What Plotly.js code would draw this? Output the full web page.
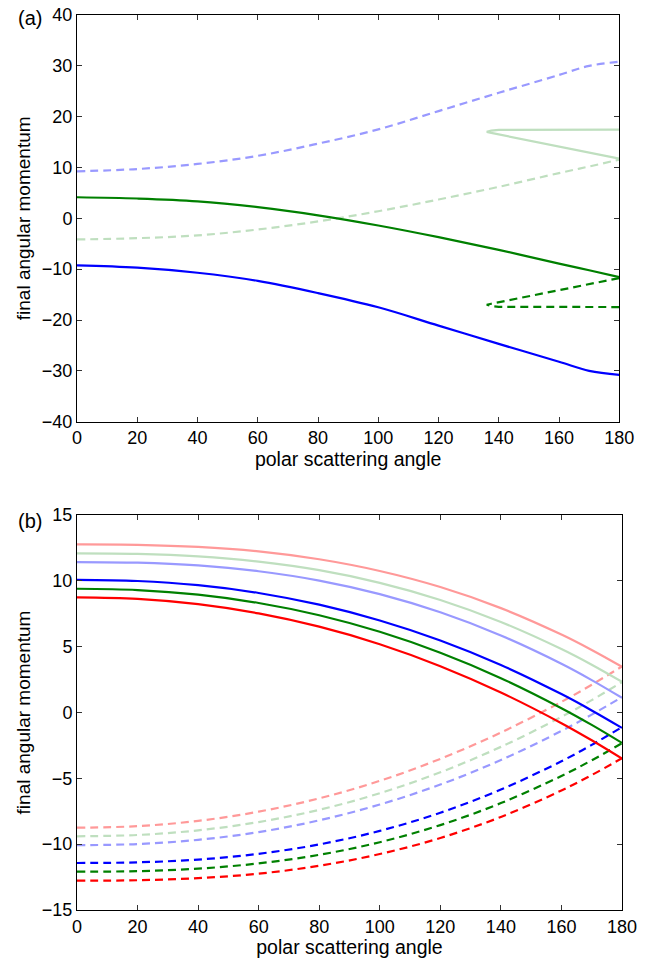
<!DOCTYPE html>
<html>
<head>
<meta charset="utf-8">
<script src="https://cdn.plot.ly/plotly-3.0.1.min.js"></script>
<style>html,body{margin:0;padding:0;background:#fff;}#chart{width:650px;height:958px;}</style>
</head>
<body>
<div id="chart"></div>
<script>
// ---------- panel (a) ----------
const aAngles = [0, 20, 40, 60, 80, 100, 120, 140, 160, 170, 180];
const aLightBlueDashed = [9.25, 9.7, 10.7, 12.3, 14.7, 17.5, 21.1, 24.7, 28.2, 30.0, 30.8];
const aBlueSolid = [-9.25, -9.7, -10.7, -12.3, -14.7, -17.5, -21.1, -24.7, -28.2, -30.0, -30.8];
const aGreenSolid = [4.15, 3.9, 3.35, 2.2, 0.6, -1.4, -3.7, -6.2, -8.9, -10.2, -11.55];
const aLightGreenDashed = [-4.15, -3.9, -3.35, -2.2, -0.6, 1.4, 3.7, 6.2, 8.9, 10.2, 11.55];
const aBranchAngles = [180, 160, 145, 140, 137.5, 136, 137.5, 140, 150, 160, 170, 180];
const aLightGreenBranch = [17.45, 17.45, 17.45, 17.4, 17.25, 17.0, 16.8, 16.5, 15.3, 14.1, 12.9, 11.75];
const aGreenBranch = [-17.45, -17.45, -17.45, -17.4, -17.25, -17.0, -16.8, -16.5, -15.3, -14.1, -12.9, -11.75];
const aYTicks = [-40, -30, -20, -10, 0, 10, 20, 30, 40];

// ---------- panel (b) ----------
const bAngles = [0, 20, 40, 60, 80, 100, 120, 140, 160, 170, 180];
const bPinkSolid = [12.77, 12.74, 12.58, 12.24, 11.64, 10.75, 9.53, 7.93, 5.92, 4.75, 3.47];
const bLightGreenSolid = [12.09, 12.05, 11.86, 11.46, 10.81, 9.85, 8.55, 6.88, 4.82, 3.63, 2.33];
const bLightBlueSolid = [11.43, 11.38, 11.17, 10.73, 10.02, 8.99, 7.61, 5.85, 3.70, 2.46, 1.11];
const bBlueSolid = [10.08, 9.99, 9.67, 9.08, 8.19, 6.99, 5.47, 3.61, 1.40, 0.16, -1.17];
const bGreenSolid = [9.40, 9.30, 8.95, 8.32, 7.39, 6.13, 4.54, 2.61, 0.33, -0.94, -2.31];
const bRedSolid = [8.75, 8.63, 8.23, 7.53, 6.52, 5.19, 3.52, 1.52, -0.81, -2.11, -3.50];
const bPinkDashed = [-8.75, -8.63, -8.23, -7.53, -6.52, -5.19, -3.52, -1.52, 0.81, 2.11, 3.50];
const bLightGreenDashed = [-9.40, -9.30, -8.95, -8.32, -7.39, -6.13, -4.54, -2.61, -0.33, 0.94, 2.31];
const bLightBlueDashed = [-10.08, -9.99, -9.67, -9.08, -8.19, -6.99, -5.47, -3.61, -1.40, -0.16, 1.17];
const bBlueDashed = [-11.43, -11.38, -11.17, -10.73, -10.02, -8.99, -7.61, -5.85, -3.70, -2.46, -1.11];
const bGreenDashed = [-12.09, -12.05, -11.86, -11.46, -10.81, -9.85, -8.55, -6.88, -4.82, -3.63, -2.33];
const bRedDashed = [-12.77, -12.74, -12.58, -12.24, -11.64, -10.75, -9.53, -7.93, -5.92, -4.75, -3.47];
const bYTicks = [-15, -10, -5, 0, 5, 10, 15];

const xTicks = [0, 20, 40, 60, 80, 100, 120, 140, 160, 180];

const C = {
  pink: '#ff9999', lgreen: '#bfdfbf', lblue: '#9999ff',
  blue: '#0000ff', green: '#008000', red: '#ff0000'
};
const DASH = '8px,5px';
const W = 2.2;

function tr(x, y, color, dashed, ax, shape) {
  return {
    x: x, y: y, type: 'scatter', mode: 'lines',
    xaxis: ax === 2 ? 'x2' : 'x', yaxis: ax === 2 ? 'y2' : 'y',
    line: {color: color, width: W, dash: dashed ? DASH : 'solid', shape: shape || 'spline', smoothing: 1},
    hoverinfo: 'skip', showlegend: false
  };
}

const data = [
  tr(aAngles, aLightBlueDashed, C.lblue, true, 1),
  tr(aAngles, aLightGreenDashed, C.lgreen, true, 1),
  tr(aBranchAngles, aLightGreenBranch, C.lgreen, false, 1, 'linear'),
  tr(aAngles, aGreenSolid, C.green, false, 1),
  tr(aBranchAngles, aGreenBranch, C.green, true, 1, 'linear'),
  tr(aAngles, aBlueSolid, C.blue, false, 1),

  tr(bAngles, bPinkDashed, C.pink, true, 2),
  tr(bAngles, bLightGreenDashed, C.lgreen, true, 2),
  tr(bAngles, bLightBlueDashed, C.lblue, true, 2),
  tr(bAngles, bBlueDashed, C.blue, true, 2),
  tr(bAngles, bGreenDashed, C.green, true, 2),
  tr(bAngles, bRedDashed, C.red, true, 2),
  tr(bAngles, bPinkSolid, C.pink, false, 2),
  tr(bAngles, bLightGreenSolid, C.lgreen, false, 2),
  tr(bAngles, bLightBlueSolid, C.lblue, false, 2),
  tr(bAngles, bBlueSolid, C.blue, false, 2),
  tr(bAngles, bGreenSolid, C.green, false, 2),
  tr(bAngles, bRedSolid, C.red, false, 2)
];

const FONT = 'Liberation Sans, Arial, Helvetica, sans-serif';
function xax(domain, anchor) {
  return {
    domain: domain, anchor: anchor, range: [0, 180], tickvals: xTicks,
    ticks: 'inside', ticklen: 5, tickwidth: 1, tickcolor: '#333',
    showline: true, linecolor: '#000', linewidth: 1, mirror: 'ticks',
    showgrid: false, zeroline: false,
    tickfont: {family: FONT, size: 18, color: '#000'},
    title: {text: 'polar scattering angle', font: {family: FONT, size: 19.5, color: '#000'}, standoff: 2}
  };
}
function yax(domain, anchor, range, ticks) {
  return {
    domain: domain, anchor: anchor, range: range, tickvals: ticks,
    ticks: 'inside', ticklen: 5, tickwidth: 1, tickcolor: '#333',
    showline: true, linecolor: '#000', linewidth: 1, mirror: 'ticks',
    showgrid: false, zeroline: false,
    tickfont: {family: FONT, size: 18, color: '#000'},
    title: {text: 'final angular momentum', font: {family: FONT, size: 19, color: '#000'}, standoff: 6}
  };
}

const layout = {
  width: 650, height: 958,
  margin: {l: 77, r: 28, t: 15, b: 48},
  paper_bgcolor: '#fff', plot_bgcolor: '#fff',
  xaxis: xax([0, 0.995], 'y'),
  yaxis: yax([0.5456, 1], 'x', [-40, 40], aYTicks),
  xaxis2: xax([0, 1], 'y2'),
  yaxis2: yax([0, 0.4413], 'x2', [-15, 15], bYTicks),
  annotations: [
    {text: '(a)', xref: 'paper', yref: 'paper', x: -0.086, y: 0.997, xanchor: 'center', yanchor: 'middle', showarrow: false, font: {family: FONT, size: 20, color: '#000'}},
    {text: '(b)', xref: 'paper', yref: 'paper', x: -0.086, y: 0.4413 - 0.007, xanchor: 'center', yanchor: 'middle', showarrow: false, font: {family: FONT, size: 20, color: '#000'}}
  ]
};

Plotly.newPlot('chart', data, layout, {staticPlot: true, displayModeBar: false});
</script>
</body>
</html>
